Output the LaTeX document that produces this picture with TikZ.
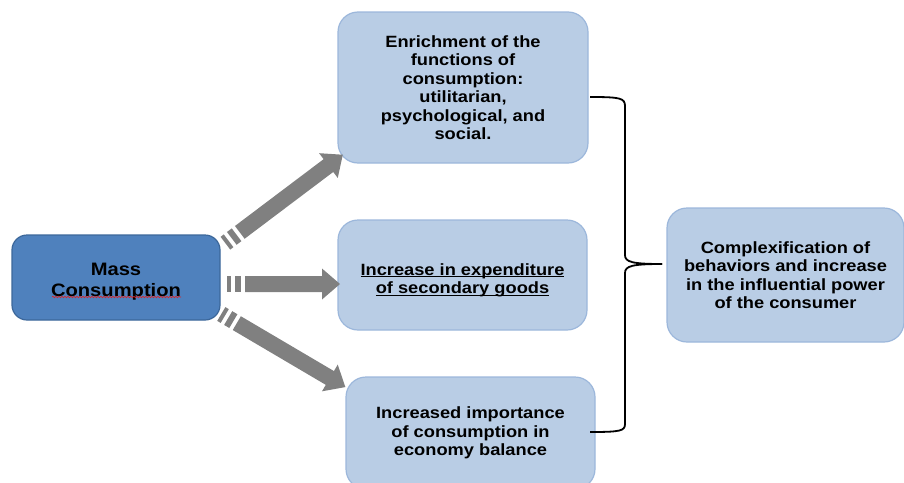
\documentclass[tikz,border=0pt]{standalone}
\usepackage{fontspec}
\setmainfont{Liberation Sans}[FakeStretch=1.12]
\usetikzlibrary{decorations.pathmorphing}

\definecolor{massblue}{HTML}{4F81BD}
\definecolor{massline}{HTML}{3C679A}
\definecolor{boxblue}{HTML}{B9CDE5}
\definecolor{boxline}{HTML}{9CB7DB}
\definecolor{arrowgray}{HTML}{808080}
\definecolor{spellred}{HTML}{E02020}

\newcommand{\ultext}[1]{\setbox0\hbox{#1}\rlap{\rule[-2.4pt]{\wd0}{1.2pt}}\box0}

\tikzset{
  infobox/.style={draw=boxline, fill=boxblue, line width=1.2pt, rounded corners=20pt,
    align=center, inner sep=0pt, minimum width=249pt,
    font={\bfseries\fontsize{16.3}{18.5}\selectfont}},
  massbox/.style={draw=massline, fill=massblue, line width=1.2pt, rounded corners=15pt,
    align=center, inner sep=0pt, minimum width=208pt, minimum height=85pt,
    font={\bfseries\fontsize{18}{21}\selectfont}},
  stripedarrow/.pic={
    \fill[arrowgray] (0,-8) rectangle (4,8);
    \fill[arrowgray] (8,-8) rectangle (14,8);
    \fill[arrowgray] (18,-8) -- ({#1-18},-8) -- ({#1-18},-15.5) -- (#1,0)
      -- ({#1-18},15.5) -- ({#1-18},8) -- (18,8) -- cycle;
  }
}

\begin{document}
\begin{tikzpicture}[x=1pt, y=-1pt]
  \useasboundingbox (0,0) rectangle (904,482);
  \clip (0,0) rectangle (904,482);

  \node[massbox] (mass) at (116,277.5) {\rule{0pt}{20.5pt}Mass\\Consumption};

  \node[infobox, minimum width=250pt, minimum height=151pt] (enrich) at (463,87.5)
    {Enrichment of the\\functions of\\consumption:\\utilitarian,\\psychological, and\\social.};
  \node[infobox, minimum height=110pt] (expend) at (462.5,275)
    {\rule{0pt}{22pt}\ultext{Increase in expenditure}\\\ultext{of secondary goods}};
  \node[infobox, minimum height=112pt] (balance) at (470.5,433)
    {Increased importance\\of consumption in\\economy balance};
  \node[infobox, minimum width=237pt, minimum height=134pt] (complex) at (785.5,275)
    {Complexification of\\behaviors and increase\\in the influential power\\of the consumer};

  \draw[spellred, line width=0.6pt, decorate, decoration={snake, amplitude=0.8pt, segment length=3pt}]
    (52,297) -- (181,297);

  \pic[rotate=37] at (225.4,243.2) {stripedarrow=147};
  \pic at (227,284) {stripedarrow=113};
  \pic[rotate=-30.5] at (221.3,314) {stripedarrow=144};

  \coordinate (bracetop) at (590,97);
  \coordinate (bracebot) at (590,432);
  \coordinate (bracetip) at (662,264);

  \draw[line width=1.8pt] (bracetop) .. controls (620,97) and (625,98) .. (625,106) -- (625,255)
    .. controls (625,262) and (632,264) .. (bracetip);
  \draw[line width=1.8pt] (bracetip) .. controls (632,264) and (625,266) .. (625,273) -- (625,424)
    .. controls (625,431) and (620,432) .. (bracebot);

\end{tikzpicture}
\end{document}
